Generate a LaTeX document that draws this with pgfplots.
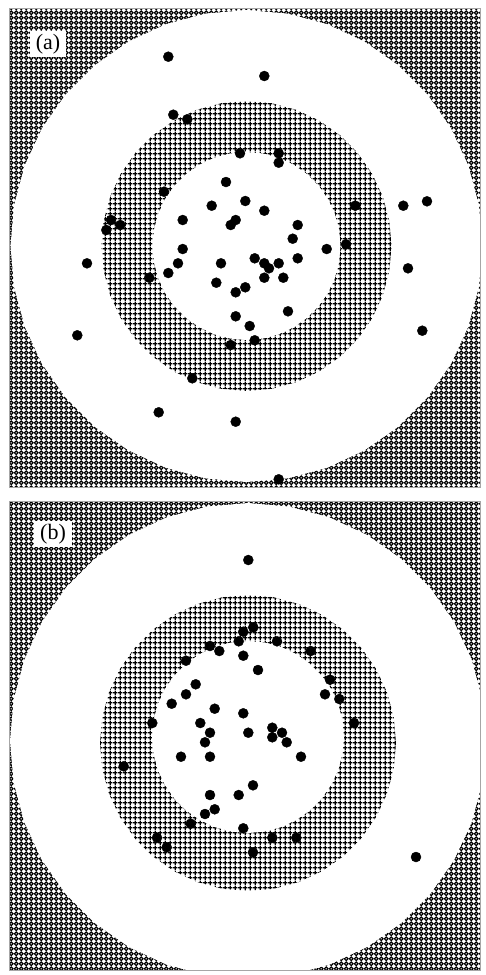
\documentclass[border=0pt]{standalone}
\usepackage{pgfplots}
\pgfplotsset{compat=1.18}
\usepackage{pgfplotstable}
\usetikzlibrary{patterns.meta}
\usepackage{fontspec}
\setmainfont{Liberation Serif}

\pgfdeclarepattern{
  name=crossgrid, type=uncolored,
  bottom left={\pgfpoint{0pt}{0pt}},
  top right={\pgfpoint{4.71pt}{4.71pt}},
  tile size={\pgfpoint{4.71pt}{4.71pt}},
  code={
    \pgfsetlinewidth{1.45pt}
    \pgfpathmoveto{\pgfpoint{0.2pt}{2.355pt}}\pgfpathlineto{\pgfpoint{4.51pt}{2.355pt}}
    \pgfpathmoveto{\pgfpoint{2.355pt}{0.2pt}}\pgfpathlineto{\pgfpoint{2.355pt}{4.51pt}}
    \pgfusepath{stroke}
  }
}
\pgfdeclarepattern{
  name=circlegrid, type=uncolored,
  bottom left={\pgfpoint{0pt}{0pt}},
  top right={\pgfpoint{4.71pt}{4.71pt}},
  tile size={\pgfpoint{4.71pt}{4.71pt}},
  code={
    \pgfsetlinewidth{1.25pt}
    \pgfpathcircle{\pgfpoint{2.355pt}{2.355pt}}{1.9pt}
    \pgfusepath{stroke}
  }
}

\pgfplotstableread{
c s
1.0000 0.0000
0.9848 0.1736
0.9397 0.3420
0.8660 0.5000
0.7660 0.6428
0.6428 0.7660
0.5000 0.8660
0.3420 0.9397
0.1736 0.9848
0.0000 1.0000
-0.1736 0.9848
-0.3420 0.9397
-0.5000 0.8660
-0.6428 0.7660
-0.7660 0.6428
-0.8660 0.5000
-0.9397 0.3420
-0.9848 0.1736
-1.0000 0.0000
-0.9848 -0.1736
-0.9397 -0.3420
-0.8660 -0.5000
-0.7660 -0.6428
-0.6428 -0.7660
-0.5000 -0.8660
-0.3420 -0.9397
-0.1736 -0.9848
0.0000 -1.0000
0.1736 -0.9848
0.3420 -0.9397
0.5000 -0.8660
0.6428 -0.7660
0.7660 -0.6428
0.8660 -0.5000
0.9397 -0.3420
0.9848 -0.1736
1.0000 0.0000
}\unitcircle

\pgfplotstableread{
x y
168.3 56.7
264.3 76
173.3 114.7
187.3 119.3
240 153.3
278.7 153.3
278.7 162.7
226 182
164 191.7
245.3 201
211.7 205.7
264.3 210.7
355.3 205.7
403.3 205.7
427 201.3
111 220
106.3 230
120.3 225
182.7 220
235.7 220
230.7 225
297.7 225
292.7 238.7
182.7 249
326.7 249
346 244.3
87 263.3
178 263.3
221 263.3
254.7 258.3
264.3 263.3
269 268.3
278.7 263.3
297.7 258.3
408 268.3
168.3 273
149.3 277.7
264.3 277.7
283.3 277.7
216.3 282.7
245.3 287.3
235.7 292.3
288 311.3
235.7 316.3
249.7 326
77.3 335.3
422.3 330.7
230.7 345
254.7 340.3
192.3 378.3
158.7 412.3
235.7 421.7
278.7 479.3
}\pointsA

\pgfplotstableread{
x y
248.3 560
253.3 627.3
243.3 631.7
238.7 641.3
210 646
219.3 651
277 641.3
310.7 651
186 660.7
243.3 655.7
258 670
195.7 684.3
330 679.7
186 694.3
171.7 703.7
325 694.3
339.3 699
214.7 708.7
243.3 713.3
152.3 723
200.3 723
354 723
210 732.7
248.3 732.7
272.3 727.7
282 732.7
272.3 737.3
286.7 742.3
205 742.3
181 756.7
210 756.7
301 756.7
123.7 766.3
253 785.3
210 795
238.7 795
214.7 809.3
205 814
190.7 823.7
243.3 828.3
157 837.7
272.3 837.7
296.3 837.7
166.7 847.3
253 852.3
416 857
}\pointsB

\pgfplotsset{
  panel/.style={
    scale only axis, width=471pt,
    xmin=9, xmax=480, y dir=reverse,
    xtick=\empty, ytick=\empty,
    axis on top, clip=true,
    axis line style={draw=gray!70, line width=0.6pt},
  },
  dots/.style={only marks, mark=*, mark size=5pt, black},
}

\begin{document}
\begin{tikzpicture}
\useasboundingbox (0,0) rectangle (485pt,-975pt);
% ---------- panel (a)
\begin{axis}[panel, at={(9pt,-8pt)}, anchor=north west, height=479pt, ymin=8, ymax=487]
\addplot[draw=none, pattern={circlegrid}, pattern color=black] coordinates {(9,8) (480,8) (480,487) (9,487) (9,8)};
\addplot[draw=none, fill=white] table[x expr=246.5+236*\thisrow{c}, y expr=246+236*\thisrow{s}] {\unitcircle};
\addplot[draw=none, pattern={crossgrid}, pattern color=black] table[x expr=246.5+145*\thisrow{c}, y expr=246+145*\thisrow{s}] {\unitcircle};
\addplot[draw=none, fill=white] table[x expr=246.5+94*\thisrow{c}, y expr=246+94*\thisrow{s}] {\unitcircle};
\addplot[dots] table {\pointsA};
\node[fill=white, inner xsep=6pt, inner ysep=3pt, font=\fontsize{22}{22}\selectfont] at (axis cs:48,44) {(a)};
\end{axis}
% ---------- panel (b)
\begin{axis}[panel, at={(9pt,-501pt)}, anchor=north west, height=469pt, ymin=501, ymax=970]
\addplot[draw=none, pattern={circlegrid}, pattern color=black] coordinates {(9,501) (480,501) (480,970) (9,970) (9,501)};
\addplot[draw=none, fill=white] table[x expr=248+238*\thisrow{c}, y expr=741+238*\thisrow{s}] {\unitcircle};
\addplot[draw=none, pattern={crossgrid}, pattern color=black] table[x expr=248+148*\thisrow{c}, y expr=743+148*\thisrow{s}] {\unitcircle};
\addplot[draw=none, fill=white] table[x expr=248+96*\thisrow{c}, y expr=737+96*\thisrow{s}] {\unitcircle};
\addplot[dots] table {\pointsB};
\node[fill=white, inner xsep=6pt, inner ysep=3pt, font=\fontsize{22}{22}\selectfont] at (axis cs:53,534) {(b)};
\end{axis}
\end{tikzpicture}
\end{document}
